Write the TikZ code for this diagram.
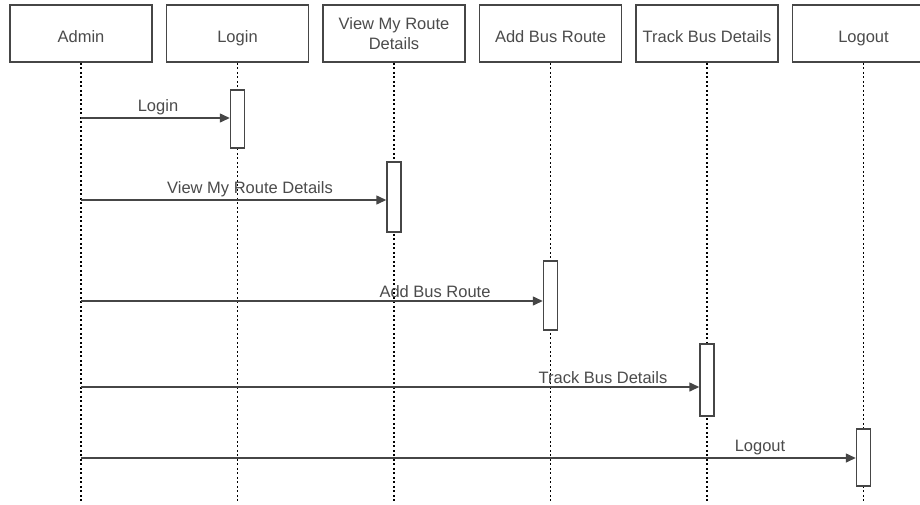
\documentclass[tikz,border=0pt]{standalone}
\usepackage{fontspec}
\setmainfont{Liberation Sans}
\usetikzlibrary{arrows.meta,positioning,calc}
\definecolor{boxgray}{RGB}{70,70,70}
\definecolor{textgray}{RGB}{75,75,75}

\begin{document}
\begin{tikzpicture}[
    part/.style={draw=boxgray,line width=1.5pt,fill=white,align=center,
      minimum width=142pt,minimum height=57pt,inner sep=2pt,
      text=textgray,font=\fontsize{16.5}{20}\selectfont},
    single/.style={part,text height=18pt,text depth=0pt},
    act/.style={draw=boxgray,line width=1.5pt,fill=white,minimum width=14pt,inner sep=0pt},
    life/.style={line width=1.5pt,dash pattern=on 2pt off 2.5pt},
    msg/.style={-{Triangle[length=10pt,width=9pt]},line width=1.5pt,draw=boxgray},
    lbl/.style={text=textgray,font=\fontsize{16.5}{20}\selectfont,inner sep=1pt,anchor=south}
  ]
    \useasboundingbox[fill=white] (0pt,0pt) rectangle (920pt,-504pt);
    \node[single] (admin) at (81pt,-33.5pt) {Admin};
    \node[single,right=13pt of admin] (login) {Login};
    \node[part,right=13pt of login] (route) {View My Route\\Details};
    \node[single,right=13pt of route] (addbus) {Add Bus Route};
    \node[single,right=13pt of addbus] (track) {Track Bus Details};
    \node[single,right=13pt of track] (logout) {Logout};
    % lifelines
    \foreach \p in {admin,login,route,addbus,track,logout}
      \draw[life] (\p.south) -- ($(\p.south)+(0,-438pt)$);
    % activation bars
    \node[act,minimum height=58pt] (a1) at (login.south |- 0,-119pt) {};
    \node[act,minimum height=70pt] (a2) at (route.south |- 0,-197pt) {};
    \node[act,minimum height=69pt] (a3) at (addbus.south |- 0,-295.5pt) {};
    \node[act,minimum height=72pt] (a4) at (track.south |- 0,-380pt) {};
    \node[act,minimum height=57pt] (a5) at (logout.south |- 0,-457.5pt) {};
    % messages
    \coordinate (s1) at (admin.south |- 0,-118pt);
    \coordinate (s2) at (admin.south |- 0,-200pt);
    \coordinate (s3) at (admin.south |- 0,-301pt);
    \coordinate (s4) at (admin.south |- 0,-387pt);
    \coordinate (s5) at (admin.south |- 0,-458pt);
    \draw[msg] (s1) -- (s1 -| a1.west);
    \draw[msg] (s2) -- (s2 -| a2.west);
    \draw[msg] (s3) -- (s3 -| a3.west);
    \draw[msg] (s4) -- (s4 -| a4.west);
    \draw[msg] (s5) -- (s5 -| a5.west);
    \node[lbl] (l1) at (158pt,-116pt) {Login};
    \node[lbl] (l2) at (250pt,-198pt) {View My Route Details};
    \node[lbl] (l3) at (435pt,-299pt) {Add Bus Route};
    \node[lbl] (l4) at (603pt,-385pt) {Track Bus Details};
    \node[lbl] (l5) at (760pt,-456pt) {Logout};
  \end{tikzpicture}
\end{document}
